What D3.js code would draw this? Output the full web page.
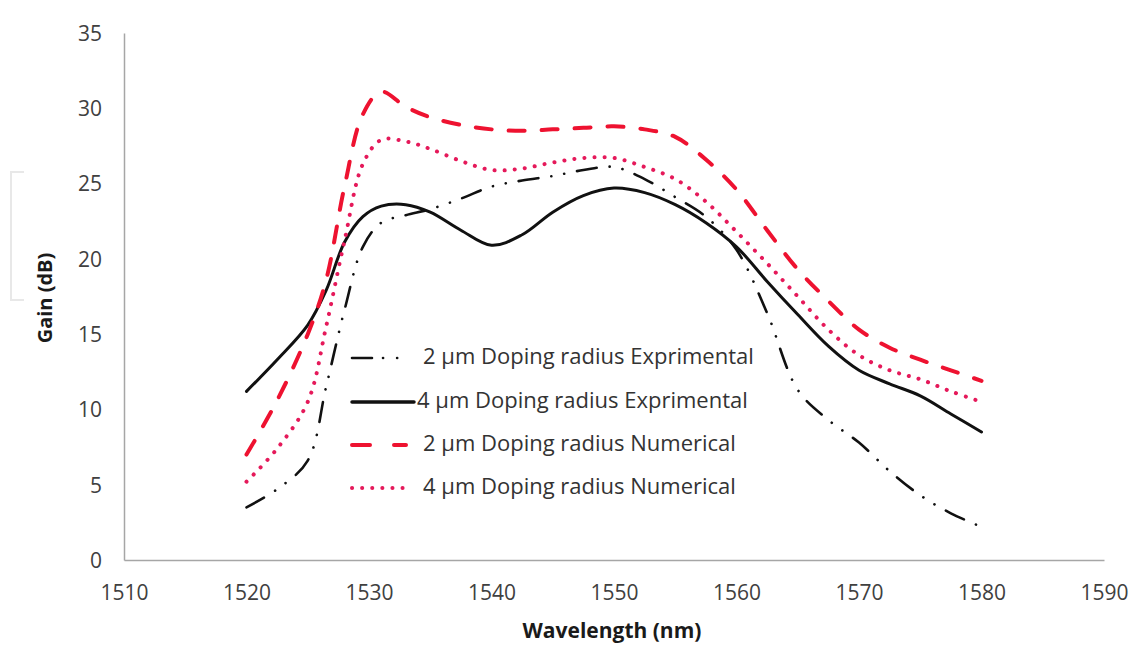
<!DOCTYPE html>
<html>
<head>
<meta charset="utf-8">
<script src="https://cdn.jsdelivr.net/npm/d3@7"></script>
<style>
  html, body { margin: 0; padding: 0; background: #fff; }
  svg { display: block; font-family: "Open Sans", Lato, sans-serif; }
</style>
</head>
<body>
<svg id="chart" width="1140" height="645"></svg>
<script>
// ---- data ----
const wavelengths = [1520, 1522.5, 1525, 1526.5, 1528, 1529.5, 1531, 1533, 1535, 1537.5, 1540, 1542.5, 1545, 1547.5, 1550, 1552.5, 1555, 1557.5, 1560, 1562.5, 1565, 1567.5, 1570, 1572.5, 1575, 1577.5, 1580];
const exp2um = [3.5, 4.7, 6.6, 11.5, 16.6, 20.8, 22.4, 22.9, 23.3, 24.0, 24.8, 25.2, 25.5, 25.9, 26.1, 25.3, 24.1, 22.8, 20.6, 16.4, 11.3, 9.3, 7.8, 5.9, 4.3, 3.1, 2.2];
const exp4um = [11.2, 13.3, 15.6, 17.9, 21.1, 22.8, 23.5, 23.6, 23.1, 21.9, 20.9, 21.6, 23.1, 24.2, 24.7, 24.4, 23.6, 22.4, 20.8, 18.5, 16.3, 14.2, 12.6, 11.7, 10.9, 9.7, 8.5];
const num2um = [7.0, 10.6, 15.0, 18.6, 24.8, 29.6, 31.1, 30.1, 29.4, 28.9, 28.6, 28.5, 28.6, 28.7, 28.8, 28.6, 28.1, 26.6, 24.6, 21.9, 19.3, 17.2, 15.3, 14.1, 13.3, 12.6, 11.9];
const num4um = [5.2, 7.4, 10.5, 15.5, 21.2, 26.3, 27.9, 27.8, 27.3, 26.5, 25.9, 26.0, 26.4, 26.7, 26.7, 26.1, 25.3, 23.8, 21.8, 19.7, 17.5, 15.3, 13.6, 12.6, 12.0, 11.2, 10.5];
const seriesNames = ["2 µm Doping radius Exprimental", "4 µm Doping radius Exprimental", "2 µm Doping radius Numerical", "4 µm Doping radius Numerical"];
const xTicks = [1510, 1520, 1530, 1540, 1550, 1560, 1570, 1580, 1590];
const yTicks = [0, 5, 10, 15, 20, 25, 30, 35];
const xTitle = "Wavelength (nm)";
const yTitle = "Gain (dB)";

// ---- styles ----
const styles = [
  { color: "#111", width: 2.6, dash: "20 13 0.1 13 0.1 13", cap: "round" },
  { color: "#111", width: 3, dash: null, cap: "round" },
  { color: "#ee1230", width: 4, dash: "16 17", cap: "round" },
  { color: "#e5195a", width: 4, dash: "0.1 10", cap: "round" }
];
const seriesValues = [exp2um, exp4um, num2um, num4um];

const svg = d3.select("#chart");
const L = 124, R = 1104, T = 33, B = 560;
const x = d3.scaleLinear().domain([1510, 1590]).range([L, R]);
const y = d3.scaleLinear().domain([0, 35]).range([B, T]);

// faint artifact bracket at left
svg.append("path")
  .attr("d", "M24,172 L11,172 L11,300 L24,300")
  .attr("fill", "none").attr("stroke", "#e8e8e8").attr("stroke-width", 2);

// axes
const xAxis = svg.append("g").attr("transform", `translate(0,${B})`)
  .call(d3.axisBottom(x).tickValues(xTicks).tickSize(0).tickPadding(20).tickFormat(d3.format("d")));
const yAxis = svg.append("g").attr("transform", `translate(${L},0)`)
  .call(d3.axisLeft(y).tickValues(yTicks).tickSize(0).tickPadding(22).tickFormat(d3.format("d")));
[xAxis, yAxis].forEach(g => {
  g.select(".domain").attr("stroke", "#a6a6a6").attr("stroke-width", 1.5);
  g.selectAll("text").attr("font-family", "'Open Sans', sans-serif").attr("font-size", 21).attr("fill", "#404040");
});
xAxis.selectAll("text").attr("dy", "0.35em").attr("y", 33);
yAxis.selectAll("text").attr("dy", "0.35em");

// titles
svg.append("text").attr("x", 612).attr("y", 632).attr("text-anchor", "middle")
  .attr("dominant-baseline", "middle").attr("font-weight", "bold").attr("font-size", 21)
  .attr("fill", "#1a1a1a").text(xTitle);
svg.append("text").attr("transform", "translate(47,298) rotate(-90)").attr("text-anchor", "middle")
  .attr("dominant-baseline", "middle").attr("font-weight", "bold").attr("font-size", 20)
  .attr("fill", "#1a1a1a").text(yTitle);

// lines
const line = d3.line().x(d => x(d[0])).y(d => y(d[1])).curve(d3.curveCatmullRom.alpha(0.5));
seriesValues.forEach((vals, i) => {
  const pts = wavelengths.map((w, j) => [w, vals[j]]);
  const s = styles[i];
  svg.append("path").datum(pts).attr("d", line)
    .attr("fill", "none").attr("stroke", s.color).attr("stroke-width", s.width)
    .attr("stroke-linecap", s.cap).attr("stroke-linejoin", "round")
    .attr("stroke-dasharray", s.dash);
});

// legend
const legY = [358, 402, 445, 488];
const legDash = ["20 11 0.1 14 0.1 14", null, "18 24", "0.1 10"];
seriesNames.forEach((name, i) => {
  const s = styles[i];
  const g = svg.append("g");
  g.append("rect").attr("x", 345).attr("y", legY[i] - 18).attr("width", 415).attr("height", 36).attr("fill", "#fff");
  g.append("line").attr("x1", 352).attr("x2", i === 1 ? 414 : 406).attr("y1", legY[i]).attr("y2", legY[i])
    .attr("stroke", s.color).attr("stroke-width", s.width + (i === 1 ? 0.5 : 0))
    .attr("stroke-linecap", s.cap).attr("stroke-dasharray", legDash[i]);
  g.append("text").attr("x", i === 1 ? 417 : 423).attr("y", legY[i]).attr("dominant-baseline", "middle")
    .attr("font-size", 22).attr("fill", "#333").text(name);
});
</script>
</body>
</html>
